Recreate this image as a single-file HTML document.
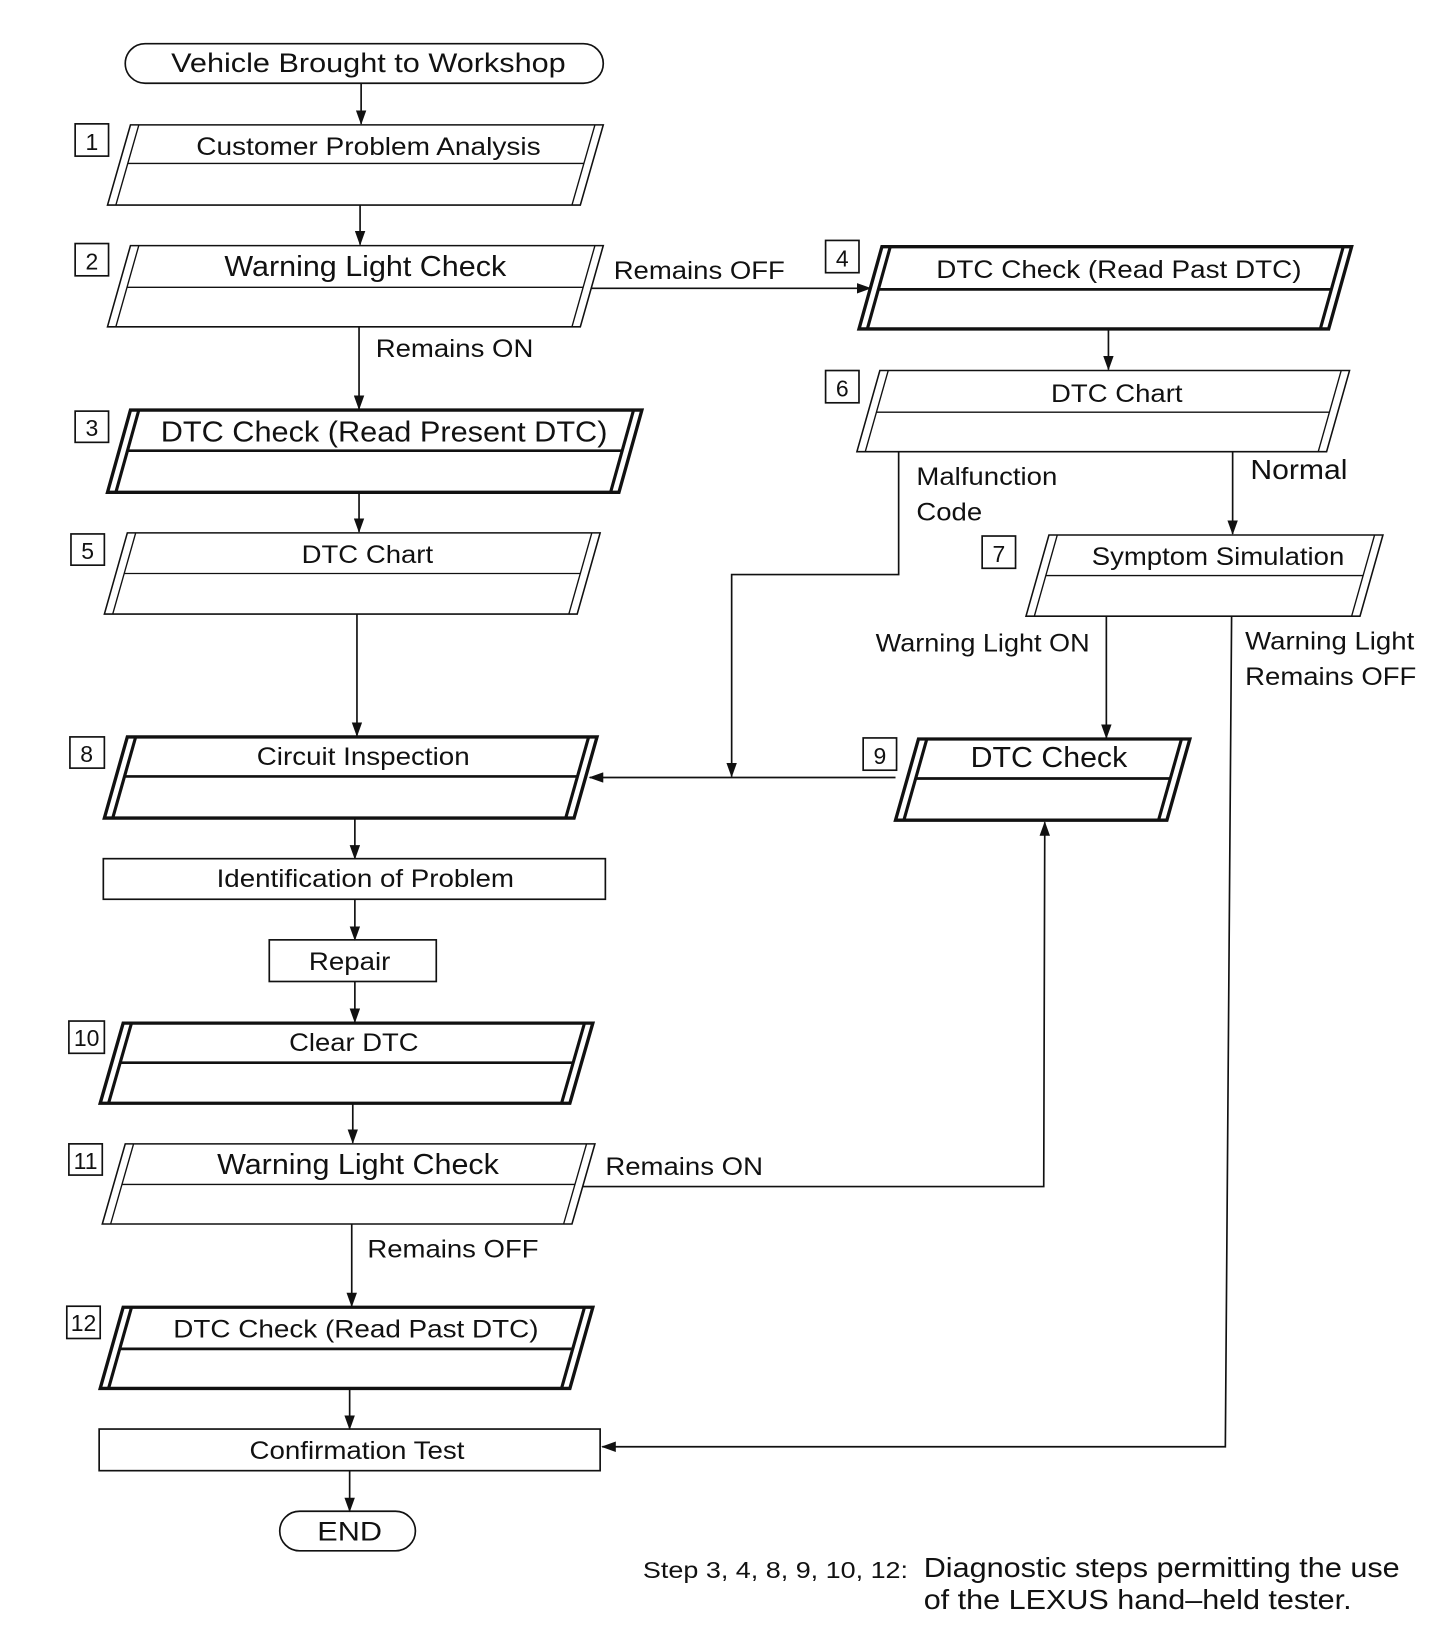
<!DOCTYPE html>
<html><head><meta charset="utf-8"><style>
html,body{margin:0;padding:0;background:#fff;}
svg{display:block;}
text{font-family:"Liberation Sans",Arial,sans-serif;fill:#111;}
</style></head><body>
<svg id="s" width="1456" height="1632" viewBox="0 0 1395 1568" preserveAspectRatio="none" xmlns="http://www.w3.org/2000/svg">
<defs>
<marker id="r" markerWidth="14" markerHeight="10" refX="13" refY="5" orient="0" markerUnits="userSpaceOnUse"><path d="M0,0 L14,5 L0,10 Z" fill="#111"/></marker>
<marker id="l" markerWidth="14" markerHeight="10" refX="1" refY="5" orient="0" markerUnits="userSpaceOnUse"><path d="M14,0 L0,5 L14,10 Z" fill="#111"/></marker>
<marker id="u" markerWidth="10" markerHeight="14" refX="5" refY="1" orient="0" markerUnits="userSpaceOnUse"><path d="M0,14 L10,14 L5,0 Z" fill="#111"/></marker>
<marker id="d" markerWidth="10" markerHeight="14" refX="5" refY="13" orient="0" markerUnits="userSpaceOnUse"><path d="M0,0 L10,0 L5,14 Z" fill="#111"/></marker>
</defs>
<g id="shapes" fill="none" stroke="#111"></g>
<g fill="none" stroke="#111" stroke-width="1.6">
<rect x="120" y="42" width="458" height="38" rx="19"/>
<rect x="99" y="825" width="481" height="39"/>
<rect x="258" y="903" width="160" height="40"/>
<rect x="95" y="1373" width="480" height="40"/>
<rect x="268" y="1452" width="130" height="38" rx="19"/>
<rect x="72" y="119" width="32" height="31"/>
<rect x="72" y="234" width="32" height="31"/>
<rect x="72" y="395" width="32" height="30"/>
<rect x="791" y="231" width="32" height="31"/>
<rect x="68" y="513" width="32" height="30"/>
<rect x="791" y="356" width="32" height="31"/>
<rect x="941" y="515" width="32" height="31"/>
<rect x="67" y="708" width="33" height="30"/>
<rect x="827" y="709" width="32" height="31"/>
<rect x="66" y="981" width="34" height="31"/>
<rect x="66" y="1099" width="32" height="30"/>
<rect x="64" y="1255" width="32" height="31"/>
<line x1="346" y1="80" x2="346" y2="119" marker-end="url(#d)"/>
<line x1="345" y1="197" x2="345" y2="235" marker-end="url(#d)"/>
<line x1="566" y1="277" x2="834" y2="277" marker-end="url(#r)"/>
<line x1="344" y1="314" x2="344" y2="393" marker-end="url(#d)"/>
<line x1="344" y1="473" x2="344" y2="511" marker-end="url(#d)"/>
<line x1="1062" y1="316" x2="1062" y2="355" marker-end="url(#d)"/>
<polyline points="861,434 861,552 701,552 701,746" marker-end="url(#d)"/>
<line x1="1181" y1="434" x2="1181" y2="513" marker-end="url(#d)"/>
<line x1="1060" y1="592" x2="1060" y2="709" marker-end="url(#d)"/>
<polyline points="1180,592 1174,1390 577,1390" marker-end="url(#l)"/>
<line x1="342" y1="590" x2="342" y2="707" marker-end="url(#d)"/>
<line x1="858" y1="747" x2="565" y2="747" marker-end="url(#l)"/>
<line x1="340" y1="786" x2="340" y2="825" marker-end="url(#d)"/>
<line x1="340" y1="864" x2="340" y2="903" marker-end="url(#d)"/>
<line x1="340" y1="943" x2="340" y2="982" marker-end="url(#d)"/>
<line x1="338" y1="1060" x2="338" y2="1098" marker-end="url(#d)"/>
<polyline points="558,1140 1000,1140 1001,790" marker-end="url(#u)"/>
<line x1="337" y1="1176" x2="337" y2="1255" marker-end="url(#d)"/>
<line x1="335" y1="1334" x2="335" y2="1373" marker-end="url(#d)"/>
<line x1="335" y1="1413" x2="335" y2="1452" marker-end="url(#d)"/>
</g>
<g font-size="26" text-anchor="middle">
<text x="353" y="69" textLength="378" lengthAdjust="spacingAndGlyphs">Vehicle Brought to Workshop</text>
<text x="353" y="149" font-size="24" textLength="330" lengthAdjust="spacingAndGlyphs">Customer Problem Analysis</text>
<text x="350" y="265" font-size="28" textLength="270" lengthAdjust="spacingAndGlyphs">Warning Light Check</text>
<text x="368" y="424" font-size="28" textLength="428" lengthAdjust="spacingAndGlyphs">DTC Check (Read Present DTC)</text>
<text x="352" y="541" font-size="24" textLength="126" lengthAdjust="spacingAndGlyphs">DTC Chart</text>
<text x="348" y="735" font-size="24" textLength="204" lengthAdjust="spacingAndGlyphs">Circuit Inspection</text>
<text x="350" y="852" font-size="24" textLength="285" lengthAdjust="spacingAndGlyphs">Identification of Problem</text>
<text x="335" y="932" font-size="24" textLength="78" lengthAdjust="spacingAndGlyphs">Repair</text>
<text x="339" y="1010" font-size="24" textLength="124" lengthAdjust="spacingAndGlyphs">Clear DTC</text>
<text x="343" y="1128" font-size="28" textLength="270" lengthAdjust="spacingAndGlyphs">Warning Light Check</text>
<text x="341" y="1285" font-size="24" textLength="350" lengthAdjust="spacingAndGlyphs">DTC Check (Read Past DTC)</text>
<text x="342" y="1402" font-size="24" textLength="206" lengthAdjust="spacingAndGlyphs">Confirmation Test</text>
<text x="335" y="1480" font-size="26" textLength="62" lengthAdjust="spacingAndGlyphs">END</text>
<text x="1072" y="267" font-size="24" textLength="350" lengthAdjust="spacingAndGlyphs">DTC Check (Read Past DTC)</text>
<text x="1070" y="386" font-size="24" textLength="126" lengthAdjust="spacingAndGlyphs">DTC Chart</text>
<text x="1167" y="543" font-size="24" textLength="242" lengthAdjust="spacingAndGlyphs">Symptom Simulation</text>
<text x="1005" y="737" font-size="28" textLength="150" lengthAdjust="spacingAndGlyphs">DTC Check</text>
<g font-size="22">
<text x="88" y="144">1</text><text x="88" y="259">2</text><text x="88" y="419">3</text>
<text x="807" y="256">4</text><text x="84" y="537">5</text><text x="807" y="381">6</text>
<text x="957" y="540">7</text><text x="83" y="732">8</text><text x="843" y="734">9</text>
<text x="83" y="1005">10</text><text x="82" y="1123">11</text><text x="80" y="1279">12</text>
</g>
</g>
<g font-size="24">
<text x="588" y="268" textLength="164" lengthAdjust="spacingAndGlyphs">Remains OFF</text>
<text x="360" y="343" textLength="151" lengthAdjust="spacingAndGlyphs">Remains ON</text>
<text x="878" y="466" textLength="135" lengthAdjust="spacingAndGlyphs">Malfunction</text>
<text x="878" y="500" textLength="63" lengthAdjust="spacingAndGlyphs">Code</text>
<text x="1198" y="460" font-size="27" textLength="93" lengthAdjust="spacingAndGlyphs">Normal</text>
<text x="839" y="626" textLength="205" lengthAdjust="spacingAndGlyphs">Warning Light ON</text>
<text x="1193" y="624" textLength="162" lengthAdjust="spacingAndGlyphs">Warning Light</text>
<text x="1193" y="658" textLength="164" lengthAdjust="spacingAndGlyphs">Remains OFF</text>
<text x="580" y="1129" textLength="151" lengthAdjust="spacingAndGlyphs">Remains ON</text>
<text x="352" y="1208" textLength="164" lengthAdjust="spacingAndGlyphs">Remains OFF</text>
<text x="616" y="1516" font-size="22" textLength="254" lengthAdjust="spacingAndGlyphs">Step 3, 4, 8, 9, 10, 12:</text>
<text x="885" y="1515" font-size="27" textLength="456" lengthAdjust="spacingAndGlyphs">Diagnostic steps permitting the use</text>
<text x="885" y="1546" font-size="27" textLength="410" lengthAdjust="spacingAndGlyphs">of the LEXUS hand–held tester.</text>
</g>
</svg>
<script>
var g=document.getElementById('shapes');
function ln(x1,y1,x2,y2,w){var e=document.createElementNS('http://www.w3.org/2000/svg','line');e.setAttribute('x1',x1);e.setAttribute('y1',y1);e.setAttribute('x2',x2);e.setAttribute('y2',y2);e.setAttribute('stroke-width',w);g.appendChild(e);}
function p(xl,yt,w,h,th,iy){var s=22,sw=th?3.2:1.5,o=8;
var TL=[xl,yt],TR=[xl+w,yt],BR=[xl+w-s,yt+h],BL=[xl-s,yt+h];
var e=document.createElementNS('http://www.w3.org/2000/svg','polygon');
e.setAttribute('points',[TL,TR,BR,BL].map(function(q){return q.join(',')}).join(' '));e.setAttribute('stroke-width',sw);g.appendChild(e);
ln(xl+o,yt,xl-s+o,yt+h,th?3:1.3);ln(xl+w-o,yt,xl+w-s-o,yt+h,th?3:1.3);
var f=(iy-yt)/h;ln(xl+o-s*f,iy,xl+w-o-s*f,iy,th?2.6:1.3);}
p(125,120,453,77,0,157);
p(125,236,453,78,0,276);
p(125,394,490,79,1,433);
p(845,237,450,79,1,278);
p(843,356,450,78,0,396);
p(122,512,453,78,0,551);
p(1005,514,320,78,0,553);
p(122,708,450,78,1,746);
p(880,710,260,78,1,748);
p(118,983,450,77,1,1021);
p(120,1099,450,77,0,1138);
p(118,1256,450,78,1,1296);
</script>
</body></html>
